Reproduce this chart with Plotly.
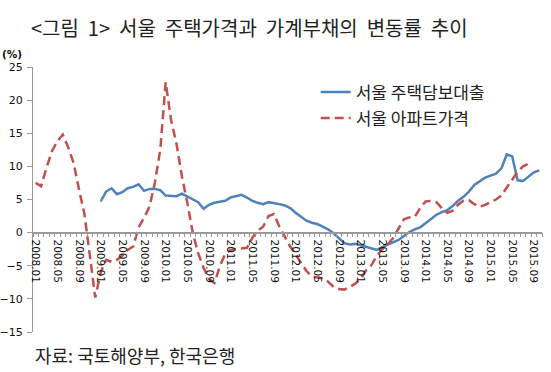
import plotly.graph_objects as go

months = [f"{y}.{m:02d}" for y in range(2008, 2016) for m in range(1, 13)][:94]

loan = [None] * 12 + [
    4.7, 6.2, 6.7, 5.8, 6.1, 6.7, 6.9, 7.3, 6.3, 6.6, 6.6, 6.4,
    5.6, 5.5, 5.5, 5.9, 5.5, 5.0, 4.6, 3.6, 4.2, 4.5, 4.7, 4.8,
    5.3, 5.5, 5.7, 5.3, 4.8, 4.5, 4.3, 4.6, 4.5, 4.3, 4.1, 3.7,
    3.0, 2.4, 1.8, 1.5, 1.3, 0.9, 0.5, -0.1, -0.9, -1.6, -1.8, -1.7,
    -1.9, -2.1, -2.3, -2.6, -2.2, -1.8, -1.5, -1.1, -0.5, 0.1, 0.5, 0.8,
    1.4, 2.1, 2.7, 3.1, 3.4, 4.0, 4.8, 5.4, 6.2, 7.2, 7.8, 8.3,
    8.6, 8.9, 9.7, 11.8, 11.5, 7.9, 7.8, 8.4, 9.1, 9.4,
]

apt = [
    7.5, 7.0, 9.8, 12.3, 13.8, 14.8, 12.9, 10.5, 6.5, 2.8, -3.5, -9.8,
    -6.0, -4.1, -4.4, -4.1, -3.5, -2.6, -2.1, 0.8, 2.2, 3.9, 7.5, 12.5,
    22.7, 17.0, 13.4, 8.5, 4.5, 0.0, -3.1, -5.3, -7.0, -7.6, -5.1, -3.2,
    -2.6, -2.5, -2.3, -2.3, -0.8, 0.3, 0.9, 2.5, 2.8, 0.9, -0.6, -2.1,
    -3.3, -4.6, -5.8, -6.6, -6.8, -6.9, -7.4, -8.2, -8.5, -8.6, -8.2, -7.7,
    -7.0, -5.7, -4.9, -3.5, -2.5, -1.8, -0.8, 0.6, 2.0, 2.3, 2.4, 3.7,
    4.7, 4.8, 4.6, 3.7, 3.0, 3.3, 4.2, 4.8, 4.9, 4.3, 3.9, 4.2,
    4.6, 5.0, 5.6, 6.8, 8.2, 9.2, 10.0, 10.4,
]

tick_labels = [m if i % 4 == 0 else "" for i, m in enumerate(months)]
y_ticks = [-15, -10, -5, 0, 5, 10, 15, 20, 25]

name_loan = "서울 주택담보대출"
name_apt = "서울 아파트가격"
title_text = "&lt;그림&nbsp; 1&gt;&nbsp; 서울&nbsp; 주택가격과&nbsp; 가계부채의&nbsp; 변동률&nbsp; 추이"
source_text = "자료: 국토해양부, 한국은행"

KFONT = "Noto Sans CJK KR"
NFONT = "DejaVu Sans"

fig = go.Figure()
fig.add_trace(go.Scatter(
    x=months, y=loan, name=name_loan, mode="lines",
    line=dict(color="#4F81BD", width=2.5), connectgaps=False,
    legendgroup="a",
))
fig.add_trace(go.Scatter(
    x=months[:len(apt)], y=apt, name=name_apt, mode="lines",
    line=dict(color="#C0504D", width=2.5, dash="9px,5px"),
    legendgroup="b",
))

fig.update_layout(
    width=551, height=372,
    margin=dict(l=33, r=8.5, t=66.5, b=39.5, autoexpand=False),
    paper_bgcolor="white", plot_bgcolor="white",
    showlegend=True,
    legend=dict(
        x=(316 - 33) / 509.5, y=(332.5 - 74) / 266, xanchor="left", yanchor="top",
        font=dict(family=KFONT, size=17, color="#222"),
        bgcolor="rgba(0,0,0,0)", tracegroupgap=1,
    ),
    title=dict(
        text=title_text, x=31 / 551, xref="container", xanchor="left",
        y=1 - 29 / 372, yref="container", yanchor="middle",
        font=dict(family=KFONT, size=20, color="#222"),
    ),
    xaxis=dict(
        type="category", range=[-0.5, 93.5], automargin=False,
        tickmode="array", tickvals=months, ticktext=tick_labels,
        tickson="boundaries", ticks="outside", ticklen=4, tickwidth=1,
        tickcolor="#9A9A9A", tickangle=90, ticklabelstandoff=4,
        tickfont=dict(family=NFONT, size=10.5, color="#111"),
        showline=True, linecolor="#9A9A9A", linewidth=1.5,
        showgrid=False, zeroline=False,
        anchor="free", position=15 / 40,
    ),
    yaxis=dict(
        range=[-15, 25], tickmode="array", tickvals=y_ticks, automargin=False,
        ticks="outside", ticklen=5, tickwidth=1, tickcolor="#9A9A9A",
        tickfont=dict(family=NFONT, size=11, color="#111"),
        showline=True, linecolor="#9A9A9A", linewidth=1.2,
        showgrid=False, zeroline=False, ticklabelstandoff=2,
    ),
)

fig.add_annotation(
    text="<b>(%)</b>", xref="paper", yref="paper",
    x=(12 - 33) / 509.5, y=(332.5 - 53) / 266,
    xanchor="center", yanchor="middle", showarrow=False,
    font=dict(family=NFONT, size=10.5, color="#111"),
)
fig.add_annotation(
    text=source_text, xref="paper", yref="paper",
    x=0, y=(332.5 - 356) / 266, xanchor="left", yanchor="middle",
    showarrow=False, font=dict(family=KFONT, size=18, color="#222"),
)

fig.write_html(
    "out.html",
    config={"displayModeBar": False},
    post_script="document.body.style.margin='0';document.body.style.padding='0';",
)
